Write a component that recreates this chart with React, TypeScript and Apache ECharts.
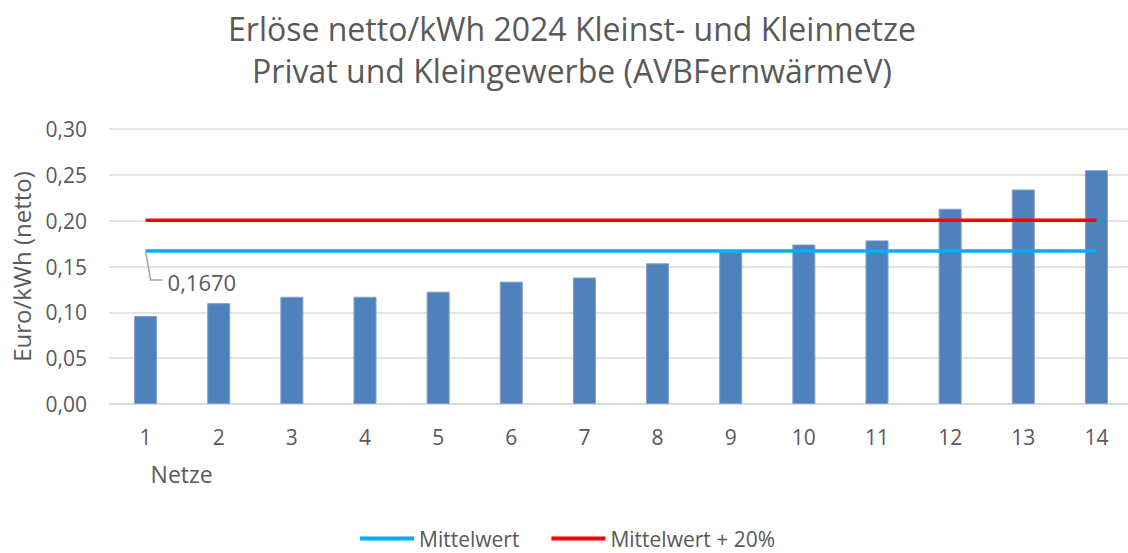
import React, { useEffect, useRef } from "react";
import * as echarts from "echarts";

const titleLines = [
  "Erlöse netto/kWh 2024 Kleinst- und Kleinnetze",
  "Privat und Kleingewerbe (AVBFernwärmeV)",
];
const categories = ["1", "2", "3", "4", "5", "6", "7", "8", "9", "10", "11", "12", "13", "14"];
const erloese = [0.096, 0.110, 0.117, 0.117, 0.1225, 0.1335, 0.138, 0.1535, 0.166, 0.174, 0.1785, 0.213, 0.234, 0.255];
const mittelwert = [0.167, 0.167, 0.167, 0.167, 0.167, 0.167, 0.167, 0.167, 0.167, 0.167, 0.167, 0.167, 0.167, 0.167];
const mittelwertPlus20 = [0.2004, 0.2004, 0.2004, 0.2004, 0.2004, 0.2004, 0.2004, 0.2004, 0.2004, 0.2004, 0.2004, 0.2004, 0.2004, 0.2004];
const meanLabel = "0,1670";
const yAxisName = "Euro/kWh (netto)";
const xAxisName = "Netze";

const FONT = "'Open Sans', sans-serif";
const TEXT = "#595959";

export default function App() {
  const ref = useRef<HTMLDivElement>(null);
  useEffect(() => {
    if (!ref.current) return;
    const chart = echarts.init(ref.current, null, { renderer: "svg" });
    chart.setOption({
      animation: false,
      textStyle: { fontFamily: FONT },
      title: {
        text: titleLines.join("\n"),
        left: 567,
        textAlign: "center",
        top: 2,
        textStyle: { fontSize: 32, lineHeight: 42, color: TEXT, fontWeight: "normal", fontFamily: FONT },
      },
      legend: {
        top: 523,
        left: 355,
        itemWidth: 54,
        itemHeight: 4,
        itemGap: 32,
        icon: "rect",
        data: ["Mittelwert", "Mittelwert + 20%"],
        textStyle: { fontSize: 21, color: TEXT, fontFamily: FONT, padding: [0, 0, 0, 0] },
      },
      grid: { left: 109, right: 0, top: 129, bottom: 149, containLabel: false },
      xAxis: {
        type: "category",
        data: categories,
        axisLine: { lineStyle: { color: "#D9D9D9", width: 1.5 } },
        axisTick: { show: false },
        axisLabel: { color: TEXT, fontSize: 21, margin: 22, fontFamily: FONT },
      },
      yAxis: {
        type: "value",
        min: 0,
        max: 0.3,
        interval: 0.05,
        name: yAxisName,
        nameLocation: "middle",
        nameGap: 76,
        nameTextStyle: { color: TEXT, fontSize: 24, fontFamily: FONT },
        axisLabel: {
          color: TEXT,
          fontSize: 21,
          margin: 22,
          fontFamily: FONT,
          formatter: (v: number) => v.toFixed(2).replace(".", ","),
        },
        splitLine: { lineStyle: { color: "#D9D9D9", width: 1.5 } },
      },
      series: [
        {
          name: "Erlöse",
          type: "bar",
          data: erloese,
          barWidth: 23,
          itemStyle: { color: "#4F81BD", borderColor: "#7DA0CC", borderWidth: 1 },
        },
        {
          name: "Mittelwert",
          type: "line",
          data: mittelwert,
          symbol: "none",
          lineStyle: { color: "#00B0F0", width: 3.5 },
          itemStyle: { color: "#00B0F0" },
        },
        {
          name: "Mittelwert + 20%",
          type: "line",
          data: mittelwertPlus20,
          symbol: "none",
          lineStyle: { color: "#FF0000", width: 3.5 },
          itemStyle: { color: "#FF0000" },
        },
      ],
    });
    const p = chart.convertToPixel({ seriesIndex: 1 }, [0, mittelwert[0]]) as number[];
    const x0 = chart.convertToPixel({ xAxisIndex: 0 }, 0) as number;
    chart.setOption({
      graphic: [
        {
          type: "polyline",
          shape: { points: [[p[0], p[1]], [p[0] + 5, p[1] + 29], [p[0] + 17, p[1] + 29]] },
          style: { stroke: "#A6A6A6", lineWidth: 1.5, fill: null },
          z: 10,
        },
        {
          type: "text",
          x: p[0] + 22,
          y: p[1] + 31,
          style: { text: meanLabel, fontSize: 22, fill: TEXT, fontFamily: FONT, verticalAlign: "middle" },
          z: 10,
        },
        {
          type: "text",
          x: x0 + 5,
          y: 474,
          style: { text: xAxisName, fontSize: 23, fill: TEXT, fontFamily: FONT, verticalAlign: "middle" },
        },
      ],
    });
    return () => chart.dispose();
  }, []);
  return (
    <div style={{ position: "fixed", left: 0, top: 0, width: 1128, height: 553, overflow: "hidden", background: "#fff" }}>
      <div ref={ref} style={{ width: 1133, height: 553 }} />
    </div>
  );
}
